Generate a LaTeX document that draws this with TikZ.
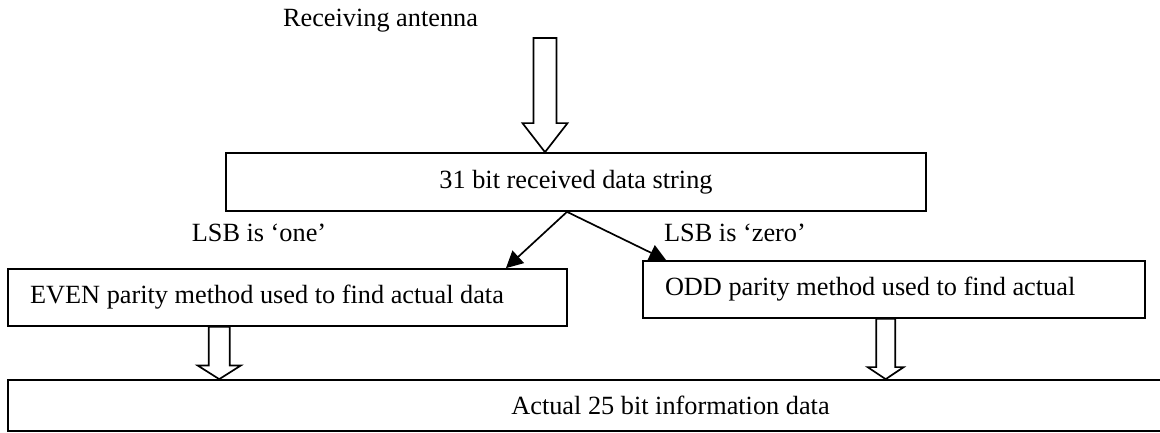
\documentclass[tikz,border=0pt]{standalone}
\usepackage{fontspec}
\setmainfont{Liberation Serif}
\usetikzlibrary{calc, arrows.meta}

% hollow block arrow: start, tip, half shaft, half head, head length
\newcommand{\blockarrow}[5]{%
	\draw[line width=1.2pt] ($(#1)+(-#3,0)$) -- ($(#1)+(#3,0)$) -- ($(#2)+(#3,#5)$) -- ($(#2)+(#4,#5)$) -- (#2) -- ($(#2)+(-#4,#5)$) -- ($(#2)+(-#3,#5)$) -- cycle;}

\begin{document}
\begin{tikzpicture}[font=\fontsize{18.7}{22}\selectfont,
		databox/.style={draw, line width=1.2pt, inner sep=0pt, minimum height=1.425cm},
		leftbox/.style={databox, inner xsep=0.55cm, align=flush left},
		lsbarrow/.style={-{Triangle[length=4.2mm,width=4.2mm]}, line width=1.2pt}]
		\clip (0,0) rectangle (29,10.825);
		\node[anchor=base] (ant) at (9.5125,10.15) {Receiving antenna};
		\node[databox, minimum width=17.5cm, minimum height=1.45cm] (rx) at (14.4,6.275) {31 bit received data string};
		\node[leftbox, text width=12.875cm] (even) at (7.19,3.3875) {EVEN parity method used to find actual data};
		\node[leftbox, text width=11.45cm] (odd) at (22.35,3.5875) {ODD parity method used to find actual};
		\node[databox, minimum width=33.125cm, minimum height=1.275cm] (info) at (16.7625,0.6875) {Actual 25 bit information data};
		\node[anchor=base] (one) at (6.475,4.775) {LSB is `one'};
		\node[anchor=base] (zero) at (18.375,4.775) {LSB is `zero'};
		\coordinate (antTop) at (13.625,9.875);
		\coordinate (antTip) at (antTop |- rx.north);
		\coordinate (fork) at ([xshift=-0.225cm]rx.south);
		\coordinate (evenIn) at ([xshift=-1.55cm]even.north east);
		\coordinate (oddIn) at ([xshift=0.6cm]odd.north west);
		\coordinate (evenOut) at ([xshift=5.3cm]even.south west);
		\coordinate (evenTip) at (evenOut |- info.north);
		\coordinate (oddOut) at ([xshift=6.0875cm]odd.south west);
		\coordinate (oddTip) at (oddOut |- info.north);
		\blockarrow{antTop}{antTip}{0.2875}{0.5625}{0.725}
		\blockarrow{evenOut}{evenTip}{0.2625}{0.5375}{0.34}
		\blockarrow{oddOut}{oddTip}{0.2375}{0.45}{0.3}
		\foreach \tip in {evenIn, oddIn}
		{\draw[lsbarrow] (fork) -- (\tip);}
\end{tikzpicture}
\end{document}
